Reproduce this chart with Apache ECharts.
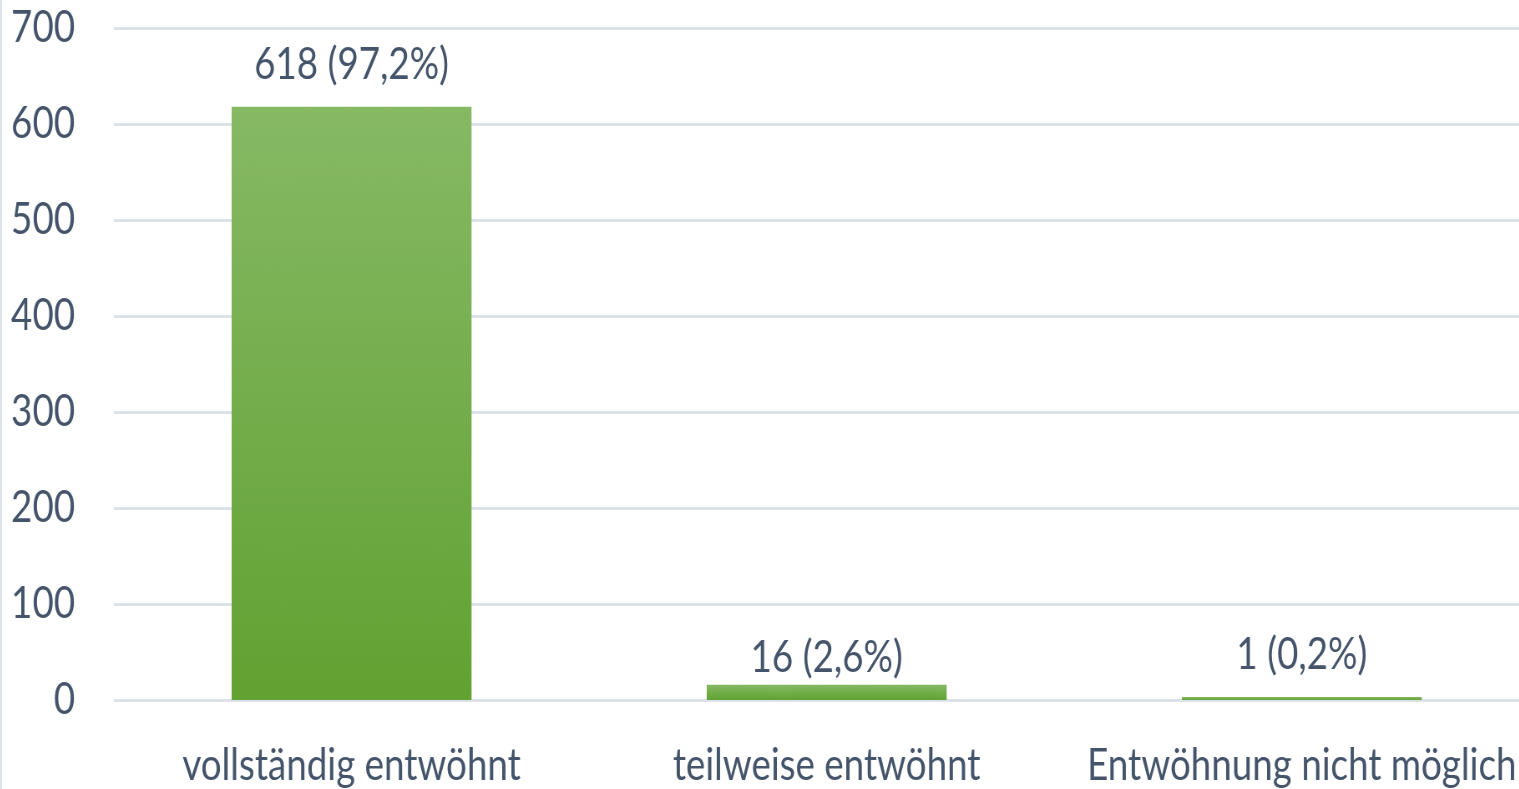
<!DOCTYPE html>
<html>
<head>
<meta charset="utf-8">
<script src="https://cdn.jsdelivr.net/npm/echarts@6/dist/echarts.min.js"></script>
<style>
	html, body { margin: 0; padding: 0; background: #fff; overflow: hidden; }
	#wrap { position: relative; width: 1519px; height: 789px; overflow: hidden; border-left: 2px solid #dde2ea; box-sizing: border-box; }
	/* Vorlage ist horizontal gestaucht, daher Chart breiter rendern und zusammendrücken */
	#chart { position: absolute; left: 0; top: 0; height: 789px; transform-origin: 0 0; }
</style>
</head>
<body>
<div id="wrap"><div id="chart"></div></div>
<script>
// Daten
const categories = ['vollständig entwöhnt', 'teilweise entwöhnt', 'Entwöhnung nicht möglich'];
const counts = [618, 16, 1];
const percents = ['97,2%', '2,6%', '0,2%'];
const yTicks = [0, 100, 200, 300, 400, 500, 600, 700];

const textColor = '#44546a';
const fontFamily = 'Lato, "Noto Sans", sans-serif';
const squeeze = 0.835;

const dom = document.getElementById('chart');
const w = 1519 / squeeze;
dom.style.width = w + 'px';
dom.style.transform = 'scaleX(' + squeeze + ')';

const chart = echarts.init(dom);

// mittleres Label sitzt in der Vorlage näher am Balken
const barData = counts.map((v, i) => (i === 1 ? { value: v, label: { distance: 5 } } : v));

const option = {
	animation: false,
	grid: {
		left: 112 / squeeze,
		right: w - 1537.5 / squeeze,
		top: 28,
		bottom: 89,
		outerBoundsMode: 'none'
	},
	xAxis: {
		type: 'category',
		data: categories,
		axisLine: { show: false },
		axisTick: { show: false },
		axisLabel: {
			interval: 0,
			color: textColor,
			fontFamily: fontFamily,
			fontSize: 44,
			margin: 44
		}
	},
	yAxis: {
		type: 'value',
		min: yTicks[0],
		max: yTicks[yTicks.length - 1],
		interval: 100,
		axisLine: { show: false },
		axisTick: { show: false },
		axisLabel: {
			color: textColor,
			fontFamily: fontFamily,
			fontSize: 44,
			margin: 39 / squeeze
		},
		splitLine: { lineStyle: { color: '#dde2ea', width: 3 } }
	},
	series: [
		{
			type: 'bar',
			data: barData,
			barWidth: '50.5%',
			barMinHeight: 3,
			itemStyle: {
				color: new echarts.graphic.LinearGradient(0, 0, 0, 1, [
					{ offset: 0, color: '#87b965' },
					{ offset: 1, color: '#61a232' }
				])
			},
			label: {
				show: true,
				position: 'top',
				distance: 20,
				color: textColor,
				fontFamily: fontFamily,
				fontSize: 44,
				formatter: (p) => p.value + ' (' + percents[p.dataIndex] + ')'
			}
		}
	]
};

chart.setOption(option);

window.addEventListener('resize', () => {
	chart.resize();
});
</script>
</body>
</html>
